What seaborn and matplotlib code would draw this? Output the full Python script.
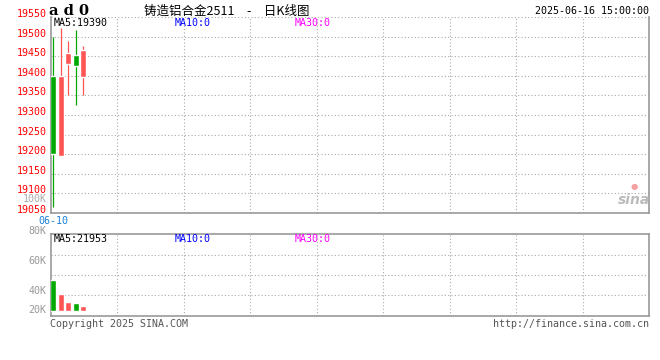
import numpy as np
import pandas as pd
import seaborn as sns
import matplotlib.pyplot as plt

# daily k-line, 5 sessions
dates = ["06-10", "06-11", "06-12", "06-13", "06-16"]
open_px = [19400, 19195, 19430, 19452, 19396]
close_px = [19200, 19400, 19458, 19425, 19467]
high_px = [19500, 19522, 19488, 19518, 19477]
low_px = [19065, 19195, 19350, 19325, 19350]
volume = [49000, 26600, 14350, 12300, 7515]

price_ticks = np.arange(19050, 19551, 50)
vol_tick_vals = [122000, 74300, 26600, -3600]
vol_tick_labels = ["80K", "60K", "40K", "20K"]
vol_grid_vals = [25000, 57000, 89000]

UP = "#ff5555"
DOWN = "#00a800"
GRID = "#aaaaaa"
MONO = "DejaVu Sans Mono"
FS = 7.2

sns.set_theme(style="white")
plt.rcParams['font.family'] = ['Noto Sans CJK SC', 'DejaVu Sans']

df = pd.DataFrame({"date": dates, "open": open_px, "close": close_px,
                   "high": high_px, "low": low_px, "vol": volume})
df["x"] = np.arange(len(df))
df["dir"] = np.where(df["close"] >= df["open"], "up", "down")
pal = {"up": UP, "down": DOWN}

W, H = 660, 360
fig = plt.figure(figsize=(6.6, 3.6), dpi=100)
fig.patch.set_facecolor("white")

def px_box(x0, y0, x1, y1):
    return [x0 / W, 1 - y1 / H, (x1 - x0) / W, (y1 - y0) / H]

ax = fig.add_axes(px_box(50.7, 17, 649, 213))
axv = fig.add_axes(px_box(50.7, 234, 649, 315.7))

xlim = (-0.35, 79.45)
vgrid = np.linspace(xlim[0], xlim[1], 10)[1:-1]

# ---- candles
colors = df["dir"].map(pal)
ax.vlines(df["x"], df["low"], df["high"], colors=colors, lw=0.9, zorder=3)
body_lo = np.minimum(df["open"], df["close"])
body_h = np.abs(df["close"] - df["open"])
ax.bar(df["x"], body_h, bottom=body_lo, width=0.8, color=colors, zorder=4)

ax.set_xlim(*xlim)
ax.set_ylim(price_ticks[0], price_ticks[-1])
ax.set_yticks(price_ticks)
ax.set_yticklabels([str(v) for v in price_ticks])
ax.set_xticks([0])
ax.set_xticklabels([dates[0]])
ax.set_xticks(vgrid, minor=True)
ax.grid(False)
ax.grid(True, which="minor", axis="x", color=GRID, ls=(0, (1, 2)), lw=0.8)
ax.grid(True, which="major", axis="y", color=GRID, ls=(0, (1, 2)), lw=0.8)
ax.tick_params(axis="y", length=0, pad=3, labelcolor="#ff0000", labelsize=FS)
ax.tick_params(axis="x", which="both", length=0, pad=2, labelcolor="#1a7fd6", labelsize=FS)
for t in ax.get_yticklabels() + ax.get_xticklabels():
    t.set_family(MONO)
for t in ax.get_yticklabels():
    t.set_verticalalignment("baseline")
for s in ["left", "right", "bottom"]:
    ax.spines[s].set_color("#999999")
    ax.spines[s].set_linewidth(1.2)
ax.spines["top"].set_visible(False)

# ---- volume
sns.barplot(data=df, x="x", y="vol", hue="dir", palette=pal, native_scale=True,
            dodge=False, width=0.8, legend=False, ax=axv, zorder=3, saturation=1)
axv.set_xlim(*xlim)
axv.set_ylim(-8000, 122000)
axv.set_yticks(vol_tick_vals)
axv.set_yticklabels(vol_tick_labels)
axv.set_yticks(vol_grid_vals, minor=True)
axv.set_xticks([])
axv.set_xticks(vgrid, minor=True)
axv.set_xlabel("")
axv.set_ylabel("")
axv.grid(False)
axv.grid(True, which="minor", color=GRID, ls=(0, (1, 2)), lw=0.8)
axv.tick_params(axis="y", which="both", length=0, pad=3, labelcolor="#999999", labelsize=FS)
axv.tick_params(axis="x", which="both", length=0, labelbottom=False)
for t in axv.get_yticklabels():
    t.set_family(MONO)
    t.set_verticalalignment("baseline")
for s in axv.spines.values():
    s.set_color("#999999")
    s.set_linewidth(1.2)

# ---- header and labels
def ftext(x, y, s, **kw):
    kw.setdefault("family", MONO)
    kw.setdefault("fontsize", FS)
    fig.text(x / W, 1 - y / H, s, **kw)

ftext(49, 11, "a d 0", family="DejaVu Serif", fontweight="bold", fontsize=10.5,
      va="center", color="black")
ftext(227, 11, "铸造铝合金2511\u3000-\u3000日K线图", family=["Noto Sans CJK SC", "DejaVu Sans"],
      fontsize=9, va="center", ha="center", color="black")
ftext(649, 11, "2025-06-16 15:00:00", va="center", ha="right", color="black")

ftext(54, 23.5, f"MA5:{np.mean(close_px):.0f}", va="center", color="black")
ftext(175, 23.5, "MA10:0", va="center", color="#0000ff")
ftext(295, 23.5, "MA30:0", va="center", color="#ff00ff")
ftext(47, 199, "100K", va="center", ha="right", color="#aaaaaa")

ftext(54, 239, f"MA5:{np.mean(volume):.0f}", va="center", color="black")
ftext(175, 239, "MA10:0", va="center", color="#0000ff")
ftext(295, 239, "MA30:0", va="center", color="#ff00ff")

ftext(50, 324, "Copyright 2025 SINA.COM", va="center", color="#555555")
ftext(649, 324, "http://finance.sina.com.cn", va="center", ha="right", color="#555555")

# sina watermark
ftext(650, 200, "sina", family="DejaVu Sans", fontsize=10, fontweight="bold",
      fontstyle="italic", va="center", ha="right", color="#bbbbbb")
ftext(634, 186, "●", family="DejaVu Sans", fontsize=6, va="center", ha="center",
      color="#f4a0a0")

fig.savefig("out.png", dpi=100)
